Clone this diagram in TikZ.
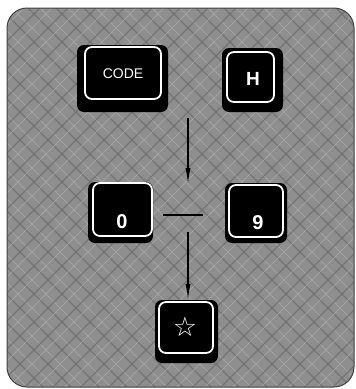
\documentclass[tikz,border=0pt]{standalone}
\usepackage{fontspec}
\setmainfont{Liberation Sans}
\newfontfamily\symfont{DejaVu Sans}
\usetikzlibrary{arrows.meta}
\definecolor{panelgray}{HTML}{8E8E8E}
\definecolor{hatchdark}{HTML}{6A6A6A}
\definecolor{hatchlight}{HTML}{B0B0B0}
\tikzset{
  keybase/.style={fill=black, rounded corners=7, inner sep=0pt},
  keyface/.style={draw=white, line width=1.8pt, rounded corners=7, inner sep=0pt},
  keylabel/.style={text=white, inner sep=0pt},
  arr/.style={line width=1.2pt, -{Latex[length=16pt,width=5pt]}},
  bar/.style={line width=2.2pt},
  hatchA/.style={hatchdark, line width=1.4pt, opacity=0.7},
  hatchB/.style={hatchlight, line width=1.0pt, opacity=0.6}
}
\begin{document}
\begin{tikzpicture}[x=1pt,y=-1pt]
\useasboundingbox (0,0) rectangle (356,389);
% panel
\path[fill=panelgray, rounded corners=20] (7,8) rectangle (354,387);
\begin{scope}
  \clip[rounded corners=20] (7,8) rectangle (354,387);
  \foreach \i in {-400,-372,...,760} {
    \draw[hatchA] (\i,0) -- ++(389,389);
    \draw[hatchA] (\i,0) -- ++(-389,389);
    \draw[hatchB] (\i+12,0) -- ++(389,389);
    \draw[hatchB] (\i+12,0) -- ++(-389,389);
  }
\end{scope}
\draw[black!75, line width=1pt, rounded corners=20] (7,8) rectangle (354,387);
% keys
\node[keybase, minimum width=91, minimum height=67] (codeB) at (122.5,78.5) {};
\node[keyface, minimum width=76, minimum height=52] (codeF) at (123,73) {};
\node[keylabel, font=\fontsize{14}{14}\selectfont] (codeT) at (123,74) {CODE};

\node[keybase, minimum width=61, minimum height=64] (hB) at (252.5,80) {};
\node[keyface, minimum width=47, minimum height=50] (hF) at (250.5,77) {};
\node[keylabel, font=\bfseries\fontsize{19}{19}\selectfont] (hT) at (253,79) {H};

\node[keybase, minimum width=65, minimum height=61] (zB) at (120.5,212.5) {};
\node[keyface, minimum width=59, minimum height=53] (zF) at (122.5,209.5) {};
\node[keylabel, font=\bfseries\fontsize{20}{20}\selectfont] (zT) at (122,222) {0};

\node[keybase, minimum width=62, minimum height=60] (nB) at (256,213) {};
\node[keyface, minimum width=54, minimum height=52] (nF) at (256,211) {};
\node[keylabel, font=\bfseries\fontsize{20}{20}\selectfont] (nT) at (258,223) {9};

\node[keybase, minimum width=63, minimum height=63] (sB) at (186.5,331.5) {};
\node[keyface, minimum width=54, minimum height=51] (sF) at (186,327.5) {};
\node[keylabel, font=\symfont\fontsize{27}{27}\selectfont] (sT) at (185,327) {☆};

% connectors
\coordinate (a1s) at (188,118);
\coordinate (a1e) at (188,184);
\coordinate (hl1) at (163,215);
\coordinate (hl2) at (203,215);
\coordinate (a2s) at (188,232);
\draw[arr] (a1s) -- (a1e);
\draw[bar] (hl1) -- (hl2);
\draw[arr] (a2s) -- (a2s |- sB.north);
\end{tikzpicture}
\end{document}
